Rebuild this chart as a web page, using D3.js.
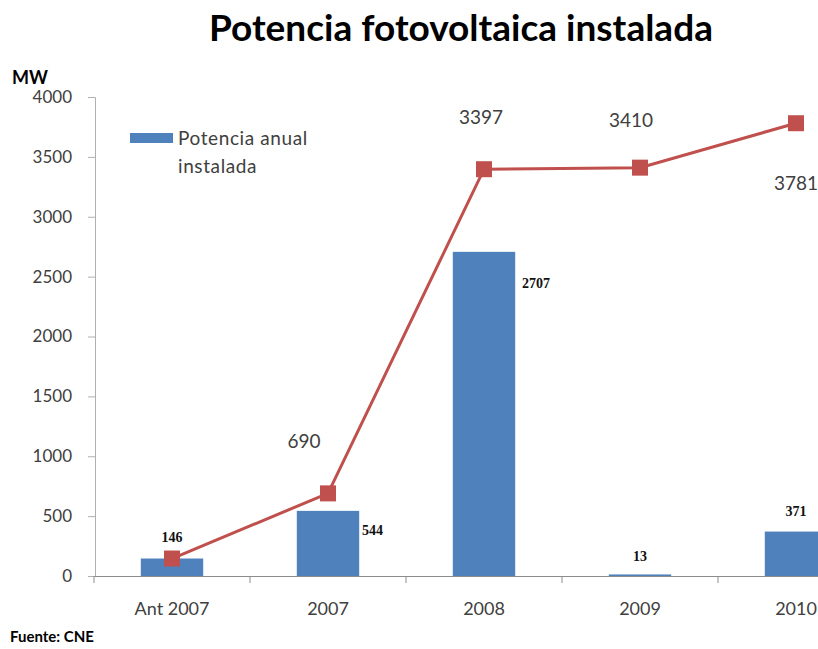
<!DOCTYPE html>
<html>
<head>
<meta charset="utf-8">
<script src="https://cdn.jsdelivr.net/npm/d3@7"></script>
<style>
  body { margin: 0; background: #fff; }
  svg { display: block; }
</style>
</head>
<body>
<div id="chart"></div>
<script>
const WIDTH = 818;
const HEIGHT = 649;

const categories = ['Ant 2007', '2007', '2008', '2009', '2010'];
const annualValues = [146, 544, 2707, 13, 371];
const cumulativeValues = [146, 690, 3397, 3410, 3781];
const yTicks = [0, 500, 1000, 1500, 2000, 2500, 3000, 3500, 4000];

// where excel put the labels (dx, dy from the point, anchor)
const barLabelPos = [
  { dx: 0, dy: -17, anchor: 'middle' },
  { dx: 34, dy: 24, anchor: 'start' },
  { dx: 38, dy: 36, anchor: 'start' },
  { dx: 0, dy: -13, anchor: 'middle' },
  { dx: 0, dy: -16, anchor: 'middle' }
];
const lineLabelPos = [
  null,
  { dx: -24, dy: -45 },
  { dx: -3, dy: -45 },
  { dx: -9, dy: -41 },
  { dx: 0, dy: 67 }
];

const BLUE = '#4F81BD';
const RED = '#C0504D';
const TEXT = '#404040';
const FONT = 'Lato, "Open Sans", sans-serif';

const svg = d3.select('#chart').append('svg')
  .attr('width', WIDTH)
  .attr('height', HEIGHT);

const x = d3.scaleBand()
  .domain(categories)
  .range([94, 874])
  .paddingInner(0.6)
  .paddingOuter(0.3);

const y = d3.scaleLinear()
  .domain([0, 4000])
  .range([576, 97]);

// title
svg.append('text')
  .attr('x', 461)
  .attr('y', 41)
  .attr('text-anchor', 'middle')
  .style('font', 'bold 37px ' + FONT)
  .style('fill', '#000')
  .text('Potencia fotovoltaica instalada');

svg.append('text')
  .attr('x', 12)
  .attr('y', 84)
  .style('font', 'bold 18px ' + FONT)
  .style('fill', '#000')
  .text('MW');

// y axis
const yAxis = svg.append('g')
  .attr('transform', 'translate(95,0)')
  .call(d3.axisLeft(y).tickValues(yTicks).tickFormat(d3.format('d')).tickSize(7).tickPadding(16));
yAxis.select('.domain').attr('stroke', '#b0b0b0');
yAxis.selectAll('.tick line').attr('stroke', '#b0b0b0');
yAxis.selectAll('text')
  .style('font', '17px ' + FONT)
  .style('fill', TEXT);

// x axis
const xAxis = svg.append('g')
  .attr('transform', 'translate(0,576)')
  .call(d3.axisBottom(x).tickSize(0).tickPadding(26));
xAxis.select('.domain').attr('stroke', '#8c8c8c');
xAxis.selectAll('text')
  .style('font', '18px ' + FONT)
  .style('fill', TEXT);
// ticks between categories
const step = x.step();
svg.append('g')
  .selectAll('line')
  .data(d3.range(categories.length + 1))
  .join('line')
  .attr('x1', i => 94 + i * step)
  .attr('x2', i => 94 + i * step)
  .attr('y1', 576)
  .attr('y2', 583)
  .attr('stroke', '#8c8c8c');

// bars
svg.append('g')
  .selectAll('rect')
  .data(annualValues)
  .join('rect')
  .attr('x', (d, i) => x(categories[i]))
  .attr('y', d => y(d))
  .attr('width', x.bandwidth())
  .attr('height', d => y(0) - y(d))
  .attr('fill', BLUE);

// cumulative line
const cx = i => x(categories[i]) + x.bandwidth() / 2;
const line = d3.line()
  .x((d, i) => cx(i))
  .y(d => y(d));

svg.append('path')
  .datum(cumulativeValues)
  .attr('d', line)
  .attr('fill', 'none')
  .attr('stroke', RED)
  .attr('stroke-width', 3);

svg.append('g')
  .selectAll('rect')
  .data(cumulativeValues)
  .join('rect')
  .attr('x', (d, i) => cx(i) - 8)
  .attr('y', d => y(d) - 8)
  .attr('width', 16)
  .attr('height', 16)
  .attr('fill', RED);

// bar labels
svg.append('g')
  .selectAll('text')
  .data(annualValues)
  .join('text')
  .attr('x', (d, i) => cx(i) + barLabelPos[i].dx)
  .attr('y', d => y(d))
  .attr('dy', (d, i) => barLabelPos[i].dy)
  .attr('text-anchor', (d, i) => barLabelPos[i].anchor)
  .style('font', 'bold 14px "Liberation Serif", serif')
  .style('fill', '#111')
  .text(d => d);

// line labels
svg.append('g')
  .selectAll('text')
  .data(cumulativeValues.map((v, i) => ({ v, i })).filter(d => lineLabelPos[d.i]))
  .join('text')
  .attr('x', d => cx(d.i) + lineLabelPos[d.i].dx)
  .attr('y', d => y(d.v) + lineLabelPos[d.i].dy)
  .attr('text-anchor', 'middle')
  .style('font', '19px ' + FONT)
  .style('fill', TEXT)
  .text(d => d.v);

// legend
const legend = svg.append('g');
legend.append('rect')
  .attr('x', 130)
  .attr('y', 133)
  .attr('width', 43)
  .attr('height', 10)
  .attr('fill', BLUE);
legend.append('text')
  .attr('x', 178)
  .attr('y', 145)
  .style('font', '19px ' + FONT)
  .style('letter-spacing', '0.6px')
  .style('fill', TEXT)
  .text('Potencia anual');
legend.append('text')
  .attr('x', 178)
  .attr('y', 173)
  .style('font', '19px ' + FONT)
  .style('letter-spacing', '0.6px')
  .style('fill', TEXT)
  .text('instalada');

svg.append('text')
  .attr('x', 10)
  .attr('y', 642)
  .style('font', 'bold 15px ' + FONT)
  .style('fill', '#000')
  .text('Fuente: CNE');
</script>
</body>
</html>
